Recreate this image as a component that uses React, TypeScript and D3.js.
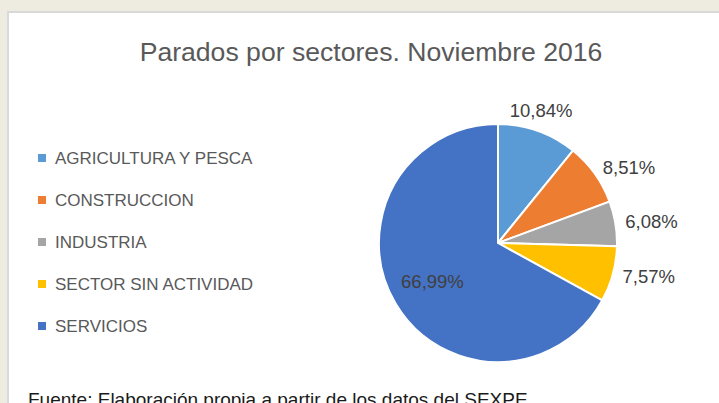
import * as d3 from 'd3';

const sectors = ['AGRICULTURA Y PESCA', 'CONSTRUCCION', 'INDUSTRIA', 'SECTOR SIN ACTIVIDAD', 'SERVICIOS'];
const shares = [10.84, 8.51, 6.08, 7.57, 66.99];
const sliceColors = ['#5B9BD5', '#ED7D31', '#A5A5A5', '#FFC000', '#4472C4'];

const W = 719;
const H = 403;
const FONT = '"Liberation Sans", Arial, sans-serif';

export default function App() {
  const cx = 498;
  const cy = 243;
  const r = 119;

  const pie = d3.pie<number>().sort(null).value(d => d)(shares);
  const arc = d3.arc<d3.PieArcDatum<number>>().innerRadius(0).outerRadius(r);

  const fmt = (v: number) => v.toFixed(2).replace('.', ',') + '%';

  // legend rows
  const legendY = d3.scalePoint<string>().domain(sectors).range([158, 326]);

  return (
    <svg width={W} height={H} style={{ position: 'absolute', left: 0, top: 0 }}>
      <rect x={0} y={0} width={W} height={H} fill="#EEEBE0" />
      <rect x={8} y={12} width={W} height={H} fill="#fff" stroke="#D9D9D9" strokeWidth={2} />

      <text x={371} y={61} textAnchor="middle" fontFamily={FONT} fontSize={26.6} fill="#595959">
        Parados por sectores. Noviembre 2016
      </text>

      {sectors.map((s, i) => (
        <g key={s}>
          <rect x={38} y={legendY(s)! - 4} width={8} height={8} fill={sliceColors[i]} />
          <text x={55} y={legendY(s)! + 6} fontFamily={FONT} fontSize={17} fill="#595959">
            {s}
          </text>
        </g>
      ))}

      <g transform={`translate(${cx},${cy})`}>
        {pie.map((p, i) => (
          <path key={i} d={arc(p)!} fill={sliceColors[i]} stroke="#fff" strokeWidth={2} />
        ))}
        {pie.map((p, i) => {
          const mid = (p.startAngle + p.endAngle) / 2;
          const sx = Math.sin(mid);
          const sy = -Math.cos(mid);
          if (p.value > 50) {
            const rr = r * 0.64;
            return (
              <text key={i} x={sx * rr} y={sy * rr + 6} textAnchor="middle" fontFamily={FONT} fontSize={18.5} fill="#404040">
                {fmt(p.value)}
              </text>
            );
          }
          const rr = r + 10;
          const anchor = Math.abs(sx) < 0.5 ? 'middle' : 'start';
          const dy = Math.abs(sx) < 0.5 ? -4 : 6;
          return (
            <text key={i} x={sx * rr} y={sy * rr + dy} textAnchor={anchor} fontFamily={FONT} fontSize={18.5} fill="#404040">
              {fmt(p.value)}
            </text>
          );
        })}
      </g>

      <text x={28} y={406} fontFamily={FONT} fontSize={19} fill="#1a1a1a">
        Fuente: Elaboración propia a partir de los datos del SEXPE
      </text>
    </svg>
  );
}
